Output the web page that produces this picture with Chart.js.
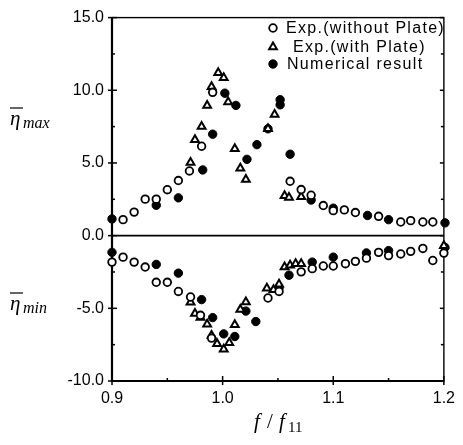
<!DOCTYPE html>
<html>
<head>
<meta charset="utf-8">
<script src="https://cdn.jsdelivr.net/npm/chart.js@4.4.1/dist/chart.umd.min.js"></script>
<style>
	body { margin: 0; background: #fff; }
</style>
</head>
<body>
<canvas id="chartView" width="463" height="445"></canvas>
<script>

// Exp.(without Plate) - open circles, eta max then eta min
var openX = [0.910, 0.920, 0.930, 0.940, 0.950, 0.960, 0.970, 0.981, 0.991, 1.061, 1.071, 1.080, 1.091, 1.100, 1.110, 1.120, 1.141, 1.161, 1.170, 1.181, 1.190,
	0.900, 0.910, 0.920, 0.930, 0.940, 0.950, 0.960, 0.971, 0.980, 0.990, 1.041, 1.051, 1.071, 1.081, 1.091, 1.100, 1.111, 1.120, 1.130, 1.141, 1.150, 1.161, 1.170, 1.181, 1.190, 1.200];
var openY = [1.10, 1.62, 2.51, 2.51, 3.16, 3.79, 4.45, 6.15, 9.86, 3.74, 3.17, 2.78, 2.07, 1.72, 1.77, 1.59, 1.33, 0.94, 1.03, 0.94, 0.94,
	-1.82, -1.48, -1.82, -2.16, -3.21, -3.21, -3.84, -4.22, -5.48, -7.05, -4.29, -3.84, -2.49, -2.27, -2.09, -2.09, -1.93, -1.77, -1.55, -1.15, -1.37, -1.26, -1.08, -0.88, -1.71, -1.20];

// Exp.(with Plate) - open triangles
var triX = [0.971, 0.975, 0.981, 0.986, 0.990, 0.996, 1.001, 1.005, 1.011, 1.016, 1.021, 1.041, 1.047, 1.056, 1.060, 1.071,
	0.971, 0.975, 0.980, 0.986, 0.990, 0.995, 1.001, 1.006, 1.011, 1.016, 1.021, 1.040, 1.046, 1.051, 1.056, 1.061, 1.066, 1.071, 1.200];
var triY = [5.03, 6.60, 7.50, 8.96, 10.24, 11.20, 10.87, 9.19, 5.98, 4.63, 3.86, 7.35, 8.33, 2.74, 2.63, 2.67,
	-4.58, -5.35, -5.64, -6.09, -6.87, -7.43, -7.82, -7.37, -6.13, -5.08, -4.56, -3.62, -3.73, -3.35, -2.16, -2.04, -1.93, -1.93, -0.70];

// Numerical result - filled circles
var fillX = [0.900, 0.940, 0.960, 0.982, 0.991, 1.002, 1.012, 1.022, 1.031, 1.041, 1.052, 1.052, 1.061, 1.080, 1.100, 1.131, 1.150, 1.201,
	0.900, 0.940, 0.960, 0.981, 0.991, 1.001, 1.011, 1.021, 1.030, 1.051, 1.060, 1.081, 1.100, 1.130, 1.150, 1.201];
var fillY = [1.15, 2.09, 2.60, 4.52, 6.98, 9.80, 8.96, 5.25, 6.26, 7.35, 9.35, 9.00, 5.60, 2.45, 1.89, 1.39, 1.10, 0.88,
	-1.15, -1.98, -2.58, -4.40, -5.64, -6.76, -6.94, -5.19, -5.91, -3.60, -2.72, -1.82, -1.48, -1.19, -1.03, -0.81];

var seriesNames = ['Exp.(without Plate)', 'Exp.(with Plate)', 'Numerical result'];
var xTickLabels = ['0.9', '1.0', '1.1', '1.2'];

Chart.defaults.font.family = '"Liberation Sans", Arial, sans-serif';
Chart.defaults.font.size = 16;
Chart.defaults.color = '#000';

function points(xs, ys) {
	return xs.map(function (x, i) {
		return { x: x, y: ys[i] };
	});
}

function series(name, xs, ys, style, fill, radius, bw) {
	return {
		label: name,
		data: points(xs, ys),
		pointStyle: style,
		pointRadius: radius,
		pointHoverRadius: radius,
		pointBorderWidth: bw,
		pointBorderColor: '#000',
		pointBackgroundColor: fill,
		showLine: false,
		clip: false
	};
}

function line(ctx, x1, y1, x2, y2) {
	ctx.beginPath();
	ctx.moveTo(x1, y1);
	ctx.lineTo(x2, y2);
	ctx.stroke();
}

var framePlugin = {
	id: 'frame',
	beforeDatasetsDraw: function (chart) {
		var ctx = chart.ctx;
		var a = chart.chartArea;
		var xs = chart.scales.x;
		var ys = chart.scales.y;
		ctx.save();
		ctx.strokeStyle = '#000';
		ctx.lineWidth = 1.4;
		ctx.strokeRect(a.left, a.top, a.right - a.left, a.bottom - a.top);
		ctx.lineWidth = 2.2;
		line(ctx, a.left, a.top, a.left, a.bottom);
		line(ctx, a.left, a.bottom, a.right, a.bottom);

		// zero line
		ctx.lineWidth = 1.6;
		var y0 = ys.getPixelForValue(0);
		line(ctx, a.left, y0, a.right, y0);

		// inward ticks
		ctx.lineWidth = 1.5;
		ys.ticks.forEach(function (t) {
			var py = ys.getPixelForValue(t.value);
			var major = Math.abs(t.value % 5) < 0.01;
			if (major) {
				line(ctx, a.left - 4, py, a.left + 5, py);
				line(ctx, a.right - 4, py, a.right, py);
			} else {
				line(ctx, a.left, py, a.left + 3, py);
				line(ctx, a.right - 3, py, a.right, py);
			}
		});
		xs.ticks.forEach(function (t) {
			var px = xs.getPixelForValue(t.value);
			var major = Math.round(t.value * 100) % 10 === 0;
			if (major) {
				line(ctx, px, a.bottom + 4, px, a.bottom - 5);
			} else {
				line(ctx, px, a.bottom, px, a.bottom - 3);
			}
		});
		ctx.restore();
	},
	afterDraw: function (chart) {
		var ctx = chart.ctx;
		var a = chart.chartArea;
		ctx.save();
		ctx.fillStyle = '#000';
		ctx.strokeStyle = '#000';
		ctx.textBaseline = 'alphabetic';

		// y titles
		function etaTitle(sub, yc) {
			ctx.font = 'italic 21px "Liberation Serif", serif';
			ctx.fillText('\u03b7', 10, yc + 5);
			ctx.lineWidth = 1.2;
			line(ctx, 10, yc - 12, 23, yc - 12);
			ctx.font = 'italic 16px "Liberation Serif", serif';
			ctx.fillText(sub, 23, yc + 8);
		}
		etaTitle('max', 120);
		etaTitle('min', 305);

		// x title  f / f11
		var xc = (a.left + a.right) / 2;
		ctx.font = 'italic 21px "Liberation Serif", serif';
		ctx.fillText('f', xc - 24, 428);
		ctx.font = '21px "Liberation Serif", serif';
		ctx.fillText('/', xc - 11, 428);
		ctx.font = 'italic 21px "Liberation Serif", serif';
		ctx.fillText('f', xc + 1, 428);
		ctx.font = '15px "Liberation Serif", serif';
		ctx.fillText('11', xc + 10, 432);

		// legend
		var items = chart.data.datasets;
		var lx = [286, 293, 287];
		var ly = [28, 47, 64];
		ctx.font = '16px "Liberation Sans", Arial, sans-serif';
		ctx.letterSpacing = '1.3px';
		ctx.textBaseline = 'middle';
		items.forEach(function (d, i) {
			ctx.fillStyle = d.pointBackgroundColor;
			ctx.strokeStyle = '#000';
			ctx.lineWidth = d.pointBorderWidth;
			Chart.helpers.drawPoint(ctx, {
				pointStyle: d.pointStyle,
				radius: d.pointRadius,
				borderWidth: d.pointBorderWidth,
				rotation: 0
			}, 273, ly[i]);
			ctx.fillStyle = '#000';
			ctx.fillText(d.label, lx[i], ly[i] + 1);
		});
		ctx.restore();
	}
};

var ctx = document.getElementById('chartView').getContext('2d');

var chart = new Chart(ctx, {
	type: 'scatter',
	data: {
		datasets: [
			series(seriesNames[0], openX, openY, 'circle', '#fff', 3.8, 1.8),
			series(seriesNames[1], triX, triY, 'triangle', '#fff', 4.5, 2),
			series(seriesNames[2], fillX, fillY, 'circle', '#000', 4.2, 1)
		]
	},
	options: {
		responsive: false,
		animation: false,
		layout: {
			padding: { top: 10, right: 12, left: 0, bottom: 0 }
		},
		plugins: {
			legend: { display: false },
			tooltip: { enabled: false }
		},
		scales: {
			x: {
				type: 'linear',
				min: 0.9,
				max: 1.2,
				border: { display: false },
				grid: { display: false, drawTicks: false },
				ticks: {
					stepSize: 0.05,
					padding: 8,
					maxRotation: 0,
					autoSkip: false,
					callback: function (v) {
						var k = Math.round(v * 100);
						if (k % 10 !== 0) return '';
						return xTickLabels[(k - 90) / 10];
					}
				},
				afterFit: function (s) { s.height = 64; }
			},
			y: {
				min: -10,
				max: 15,
				border: { display: false },
				grid: { display: false, drawTicks: false },
				ticks: {
					stepSize: 2.5,
					padding: 8,
					autoSkip: false,
					callback: function (v) {
						if (Math.abs(v % 5) > 0.01) return '';
						return v.toFixed(1);
					}
				},
				afterFit: function (s) { s.width = 112; }
			}
		}
	},
	plugins: [framePlugin]
});

</script>
</body>
</html>
